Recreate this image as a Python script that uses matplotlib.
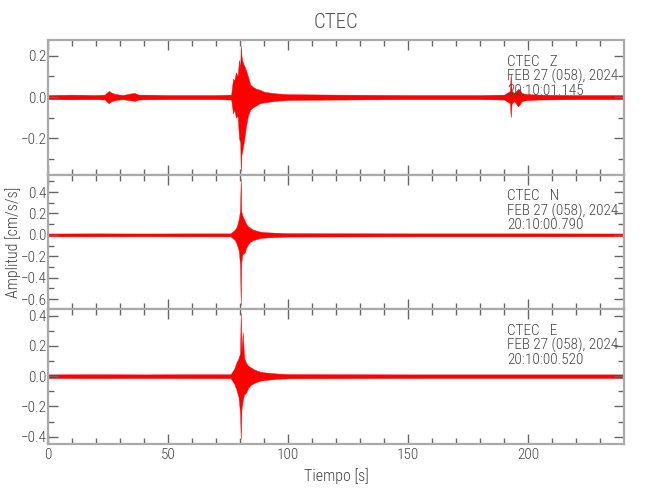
import matplotlib
matplotlib.use("Agg")
import matplotlib.pyplot as plt
from matplotlib.ticker import MultipleLocator

plt.rcParams['font.family'] = ['Roboto Condensed', 'DejaVu Sans']
plt.rcParams['font.weight'] = 'light'
plt.rcParams['axes.labelweight'] = 'light'

# ---- data: envelope of each trace (time s, upper, lower) ----
t_z = [0, 10, 20, 23.5, 25.2, 26.2, 28, 31, 34.5, 36, 37.5, 40, 50, 60, 70, 76.2, 77, 77.5, 78.2, 78.9, 79.5,
       80.0, 80.2, 80.5, 81.0, 81.7, 82.4, 83.2, 84.2, 85.2, 86.7, 88.2, 90.2, 95, 100, 120, 150, 180, 190,
       192.4, 192.7, 193.1, 194.2, 195.8, 196.5, 197.3, 199, 204, 220, 240]
up_z = [0.01, 0.012, 0.01, 0.012, 0.03, 0.022, 0.015, 0.01, 0.018, 0.02, 0.012, 0.012, 0.01, 0.01, 0.01, 0.012, 0.09, 0.08, 0.12, 0.10, 0.18,
        0.14, 0.25, 0.20, 0.17, 0.15, 0.13, 0.10, 0.06, 0.05, 0.04, 0.035, 0.025, 0.018, 0.014, 0.012, 0.01, 0.01, 0.012,
        0.03, 0.114, 0.03, 0.02, 0.04, 0.035, 0.02, 0.015, 0.012, 0.01, 0.01]
lo_z = [-0.01, -0.011, -0.01, -0.012, -0.03, -0.02, -0.014, -0.01, -0.016, -0.018, -0.012, -0.011, -0.01, -0.01, -0.01, -0.012, -0.08, -0.06, -0.10, -0.09, -0.20,
        -0.22, -0.36, -0.28, -0.25, -0.20, -0.14, -0.09, -0.06, -0.05, -0.04, -0.03, -0.025, -0.018, -0.014, -0.012, -0.01, -0.01, -0.012,
        -0.03, -0.098, -0.03, -0.02, -0.045, -0.035, -0.02, -0.015, -0.012, -0.01, -0.01]

t_n = [0, 20, 40, 60, 76, 77.8, 78.6, 79.4, 79.9, 80.2, 80.4, 80.9, 81.7, 82.5, 83.2, 83.9, 85.2, 86.7, 88.2, 90.2, 95, 100, 150, 200, 240]
up_n = [0.013, 0.014, 0.013, 0.014, 0.014, 0.05, 0.08, 0.15, 0.23, 0.527, 0.22, 0.18, 0.14, 0.10, 0.08, 0.07, 0.05, 0.04, 0.03, 0.025, 0.02, 0.016, 0.014, 0.014, 0.013]
lo_n = [-0.013, -0.014, -0.013, -0.014, -0.014, -0.05, -0.09, -0.15, -0.28, -0.657, -0.26, -0.18, -0.17, -0.12, -0.09, -0.07, -0.05, -0.04, -0.03, -0.025, -0.02, -0.016, -0.014, -0.014, -0.013]

t_e = [0, 20, 40, 60, 76, 77.5, 78.4, 79.3, 79.9, 80.2, 80.5, 81.0, 81.6, 82.4, 83.2, 84.2, 85.7, 88.2, 90.2, 95, 100, 150, 200, 240]
up_e = [0.012, 0.013, 0.012, 0.013, 0.013, 0.05, 0.09, 0.12, 0.15, 0.42, 0.16, 0.29, 0.12, 0.09, 0.07, 0.06, 0.045, 0.03, 0.025, 0.018, 0.014, 0.012, 0.012, 0.012]
lo_e = [-0.012, -0.013, -0.012, -0.013, -0.013, -0.05, -0.09, -0.14, -0.24, -0.415, -0.22, -0.16, -0.12, -0.11, -0.08, -0.06, -0.045, -0.03, -0.025, -0.018, -0.014, -0.012, -0.012, -0.012]

components = ['Z', 'N', 'E']
times = ['20:10:01.145', '20:10:00.790', '20:10:00.520']
date_str = 'FEB 27 (058), 2024'
station = 'CTEC'
ylims = [(-0.378, 0.277), (-0.692, 0.559), (-0.45, 0.444)]
yticks = [[-0.2, 0.0, 0.2], [-0.6, -0.4, -0.2, 0.0, 0.2, 0.4], [-0.4, -0.2, 0.0, 0.2, 0.4]]
xticks = [0, 50, 100, 150, 200]
xlim = (0, 239.8)

traces = [(t_z, up_z, lo_z), (t_n, up_n, lo_n), (t_e, up_e, lo_e)]

fig = plt.figure(figsize=(6.5, 5), dpi=100)
L, W = 48.3 / 650, (623.7 - 48.3) / 650
edges_px = [40, 175, 309, 444.3]
axes = []
txt_col = '#444444'
for i in range(3):
    top = 1 - edges_px[i] / 500
    bot = 1 - edges_px[i + 1] / 500
    ax = fig.add_axes([L, bot, W, top - bot])
    axes.append(ax)
    t, up, lo = traces[i]
    ax.fill_between(t, lo, up, color='red', lw=0.3, edgecolor='red')
    ax.set_xlim(*xlim)
    ax.set_ylim(*ylims[i])
    ax.set_yticks(yticks[i])
    ax.set_yticklabels([f'{v:.1f}'.replace('-', '\u2212') for v in yticks[i]])
    ax.yaxis.set_minor_locator(MultipleLocator(0.1))
    ax.set_xticks(xticks)
    ax.xaxis.set_minor_locator(MultipleLocator(10))
    ax.tick_params(which='both', direction='in', top=True, right=True, colors='#666666',
                   labelcolor=txt_col, labelsize=11, width=1)
    ax.tick_params(axis='y', pad=1)
    ax.tick_params(axis='x', pad=3)
    ax.tick_params(which='major', length=7)
    ax.tick_params(which='minor', length=4)
    for s in ax.spines.values():
        s.set_color('#aaaaaa')
        s.set_linewidth(1.6)
    if i < 2:
        ax.tick_params(labelbottom=False)
    for yy, s in zip([0.84, 0.73, 0.625],
                     [f'{station}   {components[i]}', date_str, times[i]]):
        ax.text(0.797, yy, s, transform=ax.transAxes, fontsize=11, color=txt_col,
                ha='left', va='center', fontweight='light')

axes[2].set_xticklabels([str(v) for v in xticks])
axes[2].set_xlabel('Tiempo [s]', fontsize=11.5, color=txt_col, labelpad=4, fontweight='light')
fig.text(12.7 / 650, 1 - 242 / 500, 'Amplitud [cm/s/s]', rotation=90, ha='center', va='center',
         fontsize=11.5, color=txt_col, fontweight='light')
fig.text((48.3 + 623.7) / 2 / 650, 1 - 22 / 500, station, ha='center', va='center',
         fontsize=15, color='#555555', fontweight='light')

fig.savefig('out.png', dpi=100)
